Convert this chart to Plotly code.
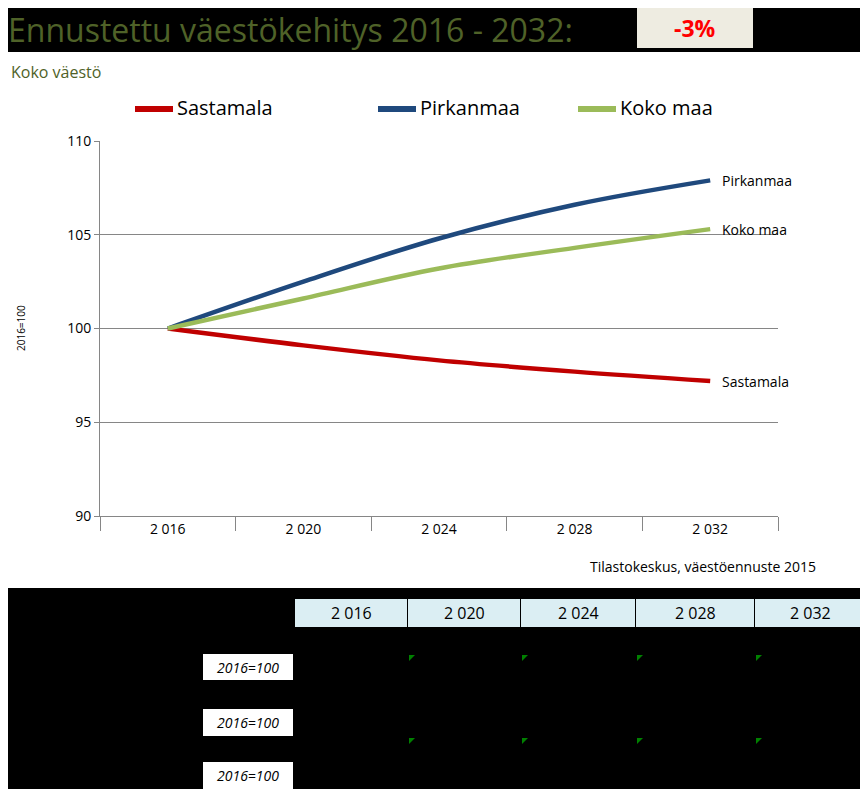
import plotly.graph_objects as go

years = ["2 016", "2 020", "2 024", "2 028", "2 032"]
sastamala = [100, 99.1, 98.3, 97.7, 97.2]
pirkanmaa = [100, 102.5, 104.8, 106.6, 107.9]
koko_maa = [100, 101.6, 103.2, 104.3, 105.3]
series = [("Sastamala", sastamala, "#C00000"), ("Pirkanmaa", pirkanmaa, "#1F497D"), ("Koko maa", koko_maa, "#9BBB59")]
yticks = [90, 95, 100, 105, 110]
row_labels = ["2016=100", "2016=100", "2016=100"]

OFF = 8
W, H = 868 - OFF, 789 - OFF
L, R, T, B = 100 - OFF, 778 - OFF, 141 - OFF, 516 - OFF
def px(x): return (x - OFF - L) / (R - L)
def py(y): return (B - (y - OFF)) / (B - T)

FONT = "Open Sans, sans-serif"
fig = go.Figure()
xs = list(range(len(years)))
for name, vals, col in series:
    fig.add_trace(go.Scatter(x=xs, y=vals, name=name, mode="lines", showlegend=False,
                             line=dict(color=col, width=4.5, shape="spline", smoothing=1.0)))
    fig.add_annotation(x=xs[-1], y=vals[-1], text=name, showarrow=False, xanchor="left", yanchor="middle",
                       xshift=10, font=dict(family=FONT, size=14, color="black"))

def ann(x, y, text, size, color="black", xa="center", **kw):
    fig.add_annotation(xref="paper", yref="paper", x=px(x), y=py(y), text=text, showarrow=False,
                       xanchor=xa, yanchor="middle", font=dict(family=FONT, size=size, color=color), **kw)

shapes = [
    dict(type="rect", xref="paper", yref="paper", x0=px(7), x1=px(868), y0=py(588), y1=py(52),
         fillcolor="white", line=dict(width=0), layer="below"),
    dict(type="rect", xref="paper", yref="paper", x0=px(637), x1=px(753), y0=py(48), y1=py(2),
         fillcolor="#EEECE1", line=dict(width=0)),
]
# legend
for (name, vals, col), lx in zip(series, [135, 378, 578]):
    shapes.append(dict(type="line", xref="paper", yref="paper", x0=px(lx), x1=px(lx + 38), y0=py(109), y1=py(109),
                       line=dict(color=col, width=6)))
    ann(lx + 40, 108, name, 20, xa="left")

cols = [295, 408, 521, 636, 755, 865]
for i in range(5):
    shapes.append(dict(type="rect", xref="paper", yref="paper", x0=px(cols[i]), x1=px(cols[i+1] - 1),
                       y0=py(627), y1=py(599), fillcolor="#DBEEF3", line=dict(width=0)))
    ann((cols[i] + cols[i+1]) / 2, 613, years[i], 16)
rows = [(654, 680), (709, 736), (762, 789)]
for (a, b), lab in zip(rows, row_labels):
    shapes.append(dict(type="rect", xref="paper", yref="paper", x0=px(203), x1=px(293), y0=py(b), y1=py(a),
                       fillcolor="white", line=dict(width=0)))
    ann(248, (a + b) / 2, "<i>" + lab + "</i>", 14)
for yy in (655, 738):
    for c in cols[1:5]:
        shapes.append(dict(type="path", xref="paper", yref="paper",
                           path=f"M {px(c+1)} {py(yy)} L {px(c+7)} {py(yy)} L {px(c+1)} {py(yy+6)} Z",
                           fillcolor="#008000", line=dict(width=0)))

ann(6, 29, "Ennustettu väestökehitys 2016 - 2032:", 32, "#4F6228", xa="left")
ann(695, 28, "<b>-3%</b>", 23, "#FF0000")
ann(9, 72, "Koko väestö", 16, "#4F6228", xa="left")
ann(818, 566, "Tilastokeskus, väestöennuste 2015", 14, xa="right")
ann(21, 328, "2016=100", 10, textangle=-90)

fig.update_layout(
    width=W, height=H, paper_bgcolor="black", plot_bgcolor="white",
    margin=dict(l=L, r=W - R, t=T, b=H - B, pad=0),
    shapes=shapes, showlegend=False,
    xaxis=dict(range=[-0.5, 4.5], tickvals=xs, ticktext=years, ticks="", showgrid=False,
               showline=True, linecolor="#868686", zeroline=False, tickfont=dict(family=FONT, size=14, color="black"),
               minor=dict(tick0=-0.5, dtick=1, ticks="outside", ticklen=14, tickcolor="#868686", showgrid=False)),
    yaxis=dict(range=[90, 110], tickvals=yticks, showgrid=True, gridcolor="#868686", zeroline=False,
               showline=True, linecolor="#868686", ticks="outside", ticklen=5, tickcolor="#868686",
               tickfont=dict(family=FONT, size=14, color="black")),
)
fig.write_html("out.html")
